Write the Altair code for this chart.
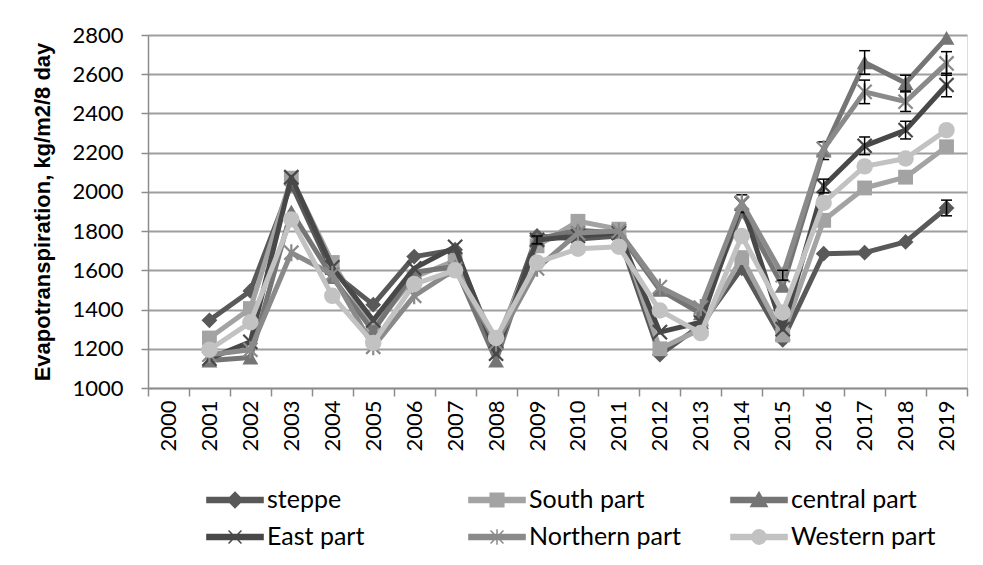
import altair as alt
import pandas as pd

years_all = list(range(2000, 2020))
years = list(range(2001, 2020))
y_ticks = [1000, 1200, 1400, 1600, 1800, 2000, 2200, 2400, 2600, 2800]

series = ["steppe", "South part", "central part", "East part", "Northern part", "Western part"]

steppe = [1345, 1495, 2040, 1590, 1425, 1670, 1705, 1200, 1775, 1760, 1775, 1170, 1320, 1610, 1245, 1685, 1690, 1745, 1918]
south = [1255, 1405, 2070, 1640, 1305, 1565, 1650, 1235, 1725, 1850, 1810, 1200, 1300, 1665, 1270, 1855, 2020, 2075, 2230]
central = [1140, 1155, 1900, 1565, 1290, 1590, 1620, 1140, 1760, 1805, 1790, 1500, 1380, 1900, 1520, 2210, 2660, 2555, 2785]
east = [1150, 1235, 2075, 1615, 1345, 1610, 1720, 1175, 1755, 1775, 1790, 1285, 1335, 1940, 1300, 2030, 2235, 2315, 2545]
northern = [1170, 1195, 1690, 1580, 1210, 1470, 1605, 1230, 1610, 1790, 1800, 1515, 1410, 1945, 1575, 2220, 2510, 2460, 2655]
western = [1195, 1335, 1860, 1470, 1230, 1530, 1600, 1255, 1640, 1710, 1720, 1395, 1280, 1775, 1385, 1945, 2130, 2170, 2315]

# error half-lengths (0 = no error bar)
err_steppe = [0] * 18 + [40]
err_south = [0] * 19
err_central = [0] * 15 + [45, 60, 40, 0]
err_east = [0] * 8 + [20] + [0] * 4 + [45, 0, 35, 45, 45, 60]
err_northern = [0] * 14 + [25, 0, 60, 50, 60]
err_western = [0] * 19

values = [steppe, south, central, east, northern, western]
errors = [err_steppe, err_south, err_central, err_east, err_northern, err_western]
colors = ["#595959", "#a3a3a3", "#757575", "#484848", "#8a8a8a", "#c2c2c2"]

X_PATH = "M-1,-1L1,1M-1,1L1,-1"
AST_PATH = "M-1,-1L1,1M-1,1L1,-1M0,-1.2L0,1.2"
shapes = ["diamond", "square", "triangle-up", X_PATH, AST_PATH, "circle"]
filled = [True, True, True, False, False, True]
sizes = [250, 220, 250, 200, 200, 270]

bar = "M-1.65,-0.15L1.65,-0.15L1.65,0.15L-1.65,0.15Z"
legend_paths = [
    bar + "M0,-0.45L0.45,0L0,0.45L-0.45,0Z",
    bar + "M-0.4,-0.4L0.4,-0.4L0.4,0.4L-0.4,0.4Z",
    bar + "M0,-0.45L0.48,0.38L-0.48,0.38Z",
    bar + "M-0.38,-0.38L0.38,0.38M-0.38,0.38L0.38,-0.38",
    bar + "M-0.38,-0.38L0.38,0.38M-0.38,0.38L0.38,-0.38M0,-0.45L0,0.45",
    bar + "M-0.42,0A0.42,0.42 0 1,1 0.42,0A0.42,0.42 0 1,1 -0.42,0Z",
]

xscale = alt.Scale(type="band", domain=years_all, paddingInner=0, paddingOuter=0)
yscale = alt.Scale(domain=[1000, 2800], nice=False, zero=False)

xaxis = alt.Axis(title=None, tickBand="extent", labelAngle=-90, labelFont="Lato",
                 labelFontSize=22, labelColor="black", labelPadding=4, tickSize=8,
                 tickColor="#8c8c8c", tickWidth=1.5, domainColor="#8c8c8c",
                 domainWidth=1.5, grid=False)
yaxis = alt.Axis(title="Evapotranspiration, kg/m2/8 day", values=y_ticks, format="d",
                 titleFont="Liberation Sans", titleFontSize=22, titleFontWeight="bold",
                 titleColor="black", titlePadding=17,
                 labelFont="Lato", labelFontSize=22, labelColor="black", labelPadding=18,
                 tickSize=7, tickColor="#8c8c8c", tickWidth=1.5, domainColor="#8c8c8c",
                 domainWidth=1.5, grid=True, gridColor="#9e9e9e", gridWidth=1.8)

X = alt.X("year:O", scale=xscale, axis=xaxis)
Y = alt.Y("value:Q", scale=yscale, axis=yaxis)

layers = []
all_rows = []
for name, vals, errs, col, shp, fl, sz in zip(series, values, errors, colors, shapes, filled, sizes):
    df = pd.DataFrame({"year": years, "value": vals, "err": errs})
    df["lo"] = df["value"] - df["err"]
    df["hi"] = df["value"] + df["err"]
    df["series"] = name
    all_rows.append(df)
    layers.append(alt.Chart(df).mark_line(color=col, strokeWidth=5, strokeJoin="round",
                                          strokeCap="round").encode(x=X, y=Y))
    if fl:
        pm = alt.Chart(df).mark_point(shape=shp, filled=True, size=sz, color=col, opacity=1)
    else:
        pm = alt.Chart(df).mark_point(shape=shp, filled=False, size=sz, color=col, opacity=1,
                                      strokeWidth=2.2)
    layers.append(pm.encode(x=X, y=Y))
    edf = df[df["err"] > 0]
    if len(edf):
        layers.append(alt.Chart(edf).mark_rule(color="black", strokeWidth=1.5).encode(
            x=X, y=alt.Y("lo:Q", scale=yscale, axis=yaxis), y2="hi:Q"))
        for fld in ["lo", "hi"]:
            layers.append(alt.Chart(edf).mark_tick(color="black", orient="horizontal", size=11,
                                                   thickness=1.5, opacity=1).encode(
                x=X, y=alt.Y(f"{fld}:Q", scale=yscale, axis=yaxis)))

all_df = pd.concat(all_rows)
leg = alt.Legend(orient="none", legendX=69, legendY=447, columns=3, direction="horizontal",
                 gridAlign="all", columnPadding=45, rowPadding=6, symbolSize=1156,
                 symbolStrokeWidth=1.5, labelFont="Lato", labelFontSize=25,
                 labelColor="black", labelOffset=14, title=None, padding=0,
                 symbolOpacity=1, labelLimit=300)
legend_layer = alt.Chart(all_df).transform_filter("false").mark_point(
    filled=True, opacity=1, strokeWidth=1.5).encode(
    x=X, y=Y,
    shape=alt.Shape("series:N", scale=alt.Scale(domain=series, range=legend_paths), legend=leg),
    fill=alt.Fill("series:N", scale=alt.Scale(domain=series, range=colors), legend=leg),
    stroke=alt.Stroke("series:N", scale=alt.Scale(domain=series, range=colors), legend=leg),
)
layers.append(legend_layer)

chart = alt.layer(*layers).properties(
    width=819, height=353,
    autosize=alt.AutoSizeParams(type="none"),
    padding={"left": 140, "top": 27, "right": 8, "bottom": 169},
).configure_view(stroke=None).configure(background="white")

chart.save("out.html", embed_options={"renderer": "svg", "actions": False})
